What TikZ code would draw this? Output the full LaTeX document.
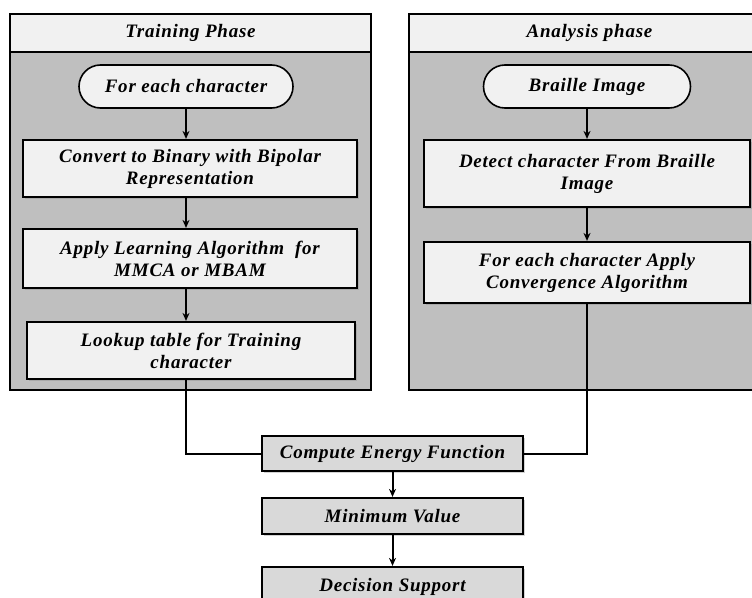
\documentclass[tikz,border=0pt]{standalone}
\usepackage{fontspec}
\setmainfont{Liberation Serif}[LetterSpace=4]
\usetikzlibrary{shapes.misc,shadows,arrows.meta}
\definecolor{panelgray}{HTML}{BFBFBF}
\definecolor{lightbox}{HTML}{F1F1F1}
\definecolor{midbox}{HTML}{D9D9D9}
\tikzset{
  txt/.style={font=\fontsize{19}{22}\selectfont\bfseries\itshape, align=center},
  panel/.style={draw=black, line width=2.4pt, fill=panelgray, inner sep=0pt},
  header/.style={txt, draw=black, line width=2.4pt, fill=lightbox, inner sep=0pt},
  procbox/.style={txt, draw=black, line width=2.2pt, fill=lightbox, inner sep=2pt,
     drop shadow={opacity=0.35, shadow xshift=1.5pt, shadow yshift=-1.5pt}},
  termbox/.style={txt, rounded rectangle, draw=black, line width=1.6pt, fill=lightbox, inner sep=2pt},
  lowbox/.style={procbox, fill=midbox},
  flow/.style={line width=2pt, -{Stealth[length=8pt,width=7pt]}},
  link/.style={line width=2pt}
}
\begin{document}
\begin{tikzpicture}[x=1pt,y=-1pt]
\useasboundingbox (0,0) rectangle (752,597);
\begin{scope}
\clip (0,0) rectangle (752,597);
% panels
\node[panel, minimum width=361pt, minimum height=376pt] (tpanel) at (190.5,202) {};
\node[header, minimum width=361pt, minimum height=38pt] (thead) at (190.5,33) {Training Phase};
\node[panel, minimum width=361pt, minimum height=376pt] (apanel) at (589.5,202) {};
\node[header, minimum width=361pt, minimum height=38pt] (ahead) at (589.5,33) {Analysis phase};
% training
\node[termbox, minimum width=218pt, minimum height=43pt] (tstart) at (186,86.5) {For each character};
\node[procbox, minimum width=334pt, minimum height=57pt] (tconv) at (190,168.5) {Convert to Binary with Bipolar\\Representation};
\node[procbox, minimum width=334pt, minimum height=59pt] (tlearn) at (190,258.5) {Apply Learning Algorithm\ \ for\\MMCA or MBAM};
\node[procbox, minimum width=328pt, minimum height=57pt] (tlook) at (191,350.5) {Lookup table for Training\\character};
% analysis
\node[termbox, minimum width=211pt, minimum height=43pt] (astart) at (587,86.5) {Braille Image};
\node[procbox, minimum width=326pt, minimum height=67pt] (adetect) at (587,173.5) {Detect character From Braille\\Image};
\node[procbox, minimum width=326pt, minimum height=61pt] (aconv) at (587,272.5) {For each character Apply\\Convergence Algorithm};
% bottom
\node[lowbox, minimum width=261pt, minimum height=35pt] (energy) at (392.5,453.5) {Compute Energy Function};
\node[lowbox, minimum width=261pt, minimum height=36pt] (minv) at (392.5,516) {Minimum Value};
\node[lowbox, minimum width=261pt, minimum height=40pt] (decision) at (392.5,587) {Decision Support};
% connectors
\draw[flow] (tstart.south) -- (tstart.south |- tconv.north);
\draw[flow] (tconv.south -| tstart.south) -- (tstart.south |- tlearn.north);
\draw[flow] (tlearn.south -| tstart.south) -- (tstart.south |- tlook.north);
\draw[link] (tlook.south -| tstart.south) |- (energy.west);
\draw[flow] (astart.south) -- (adetect.north);
\draw[flow] (adetect.south) -- (aconv.north);
\draw[link] (aconv.south) |- (energy.east);
\draw[flow] (energy.south) -- (minv.north);
\draw[flow] (minv.south) -- (decision.north);
\end{scope}
\end{tikzpicture}
\end{document}
